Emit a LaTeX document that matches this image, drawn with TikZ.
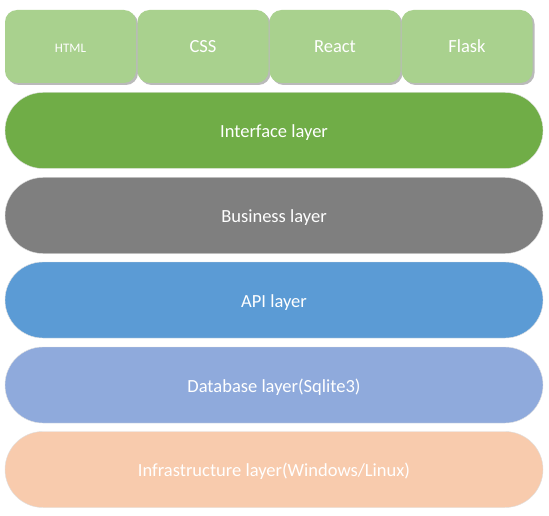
\documentclass[tikz,border=0pt]{standalone}
\usepackage{fontspec}
\setmainfont{Carlito}
\usetikzlibrary{shadows}

\definecolor{techgreen}{HTML}{A9D18E}
\definecolor{ifacegreen}{HTML}{70AD47}
\definecolor{bizgrey}{HTML}{7F7F7F}
\definecolor{apiblue}{HTML}{5B9BD5}
\definecolor{dbblue}{HTML}{8FAADC}
\definecolor{infraorange}{HTML}{F8CBAD}

\begin{document}
\begin{tikzpicture}[
	x=1pt, y=-1pt,
	tech/.style={
		rectangle,
		rounded corners=12pt,
		fill=techgreen,
		draw=none,
		text=white,
		minimum width=131pt,
		minimum height=73pt,
		inner sep=0pt,
		text height=13pt,
		text depth=1pt,
		font=\fontsize{18.5}{21}\selectfont,
		drop shadow={shadow xshift=2pt, shadow yshift=-2pt, opacity=0.45, fill=black!60},
	},
	layer/.style={% pill shaped layers
		rectangle,
		rounded corners=38pt,
		draw=black!12,
		fill=#1,
		text=white,
		minimum width=538pt,
		minimum height=76pt,
		inner sep=0pt,
		text height=15pt,
		text depth=1pt,
		font=\fontsize{18.5}{21}\selectfont,
	},
]
	\useasboundingbox [fill=white] (0,0) rectangle (549,516);

	\node [tech, font=\fontsize{13}{15}\selectfont] (html) at (70.5,46.5) {HTML};
	\node [tech] (css) at (203,46.5) {CSS};
	\node [tech] (react) at (335,46.5) {React};
	\node [tech] (flask) at (467,46.5) {Flask};

	\node [layer=ifacegreen] (iface) at (274,130.5) {Interface layer};
	\node [layer=bizgrey] (biz) at (274,215.5) {Business layer};
	\node [layer=apiblue] (api) at (274,300) {API layer};
	\node [layer=dbblue] (db) at (274,385) {Database layer(Sqlite3)};
	\node [layer=infraorange] (infra) at (274,469.5) {Infrastructure layer(Windows/Linux)};
\end{tikzpicture}
\end{document}
